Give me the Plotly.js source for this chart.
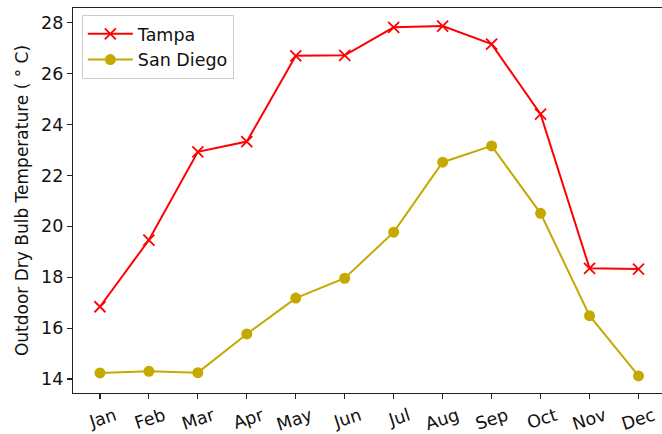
<!DOCTYPE html>
<html>
<head>
<meta charset="utf-8">
<script src="https://cdn.plot.ly/plotly-3.0.1.min.js"></script>
<style>html,body{margin:0;padding:0;background:#fff;}#chart{width:662px;height:434px;}</style>
</head>
<body>
<div id="chart"></div>
<script>
const months = ["Jan","Feb","Mar","Apr","May","Jun","Jul","Aug","Sep","Oct","Nov","Dec"];
const tampa = [16.84, 19.46, 22.93, 23.33, 26.70, 26.72, 27.82, 27.87, 27.16, 24.41, 18.35, 18.32];
const sanDiego = [14.24, 14.30, 14.25, 15.77, 17.18, 17.96, 19.77, 22.52, 23.16, 20.51, 16.49, 14.12];
const yTicks = [14, 16, 18, 20, 22, 24, 26, 28];

const idx = months.map((m, i) => i);
const font = {family: "DejaVu Sans, sans-serif", size: 17.5, color: "#111"};

const traces = [
  {
    x: idx, y: tampa, name: "Tampa", type: "scatter", mode: "lines+markers",
    line: {color: "#ff0000", width: 2},
    marker: {symbol: "x-thin-open", size: 11, color: "#ff0000", line: {color: "#ff0000", width: 1.8}}
  },
  {
    x: idx, y: sanDiego, name: "San Diego", type: "scatter", mode: "lines+markers",
    line: {color: "#c4aa00", width: 2},
    marker: {symbol: "circle", size: 11, color: "#c4aa00"}
  }
];

const layout = {
  width: 662, height: 434,
  margin: {l: 73, r: 0, t: 8, b: 41},
  paper_bgcolor: "#fff", plot_bgcolor: "#fff",
  font: font,
  showlegend: true,
  legend: {
    x: 0.015, y: 0.982, xanchor: "left", yanchor: "top",
    bordercolor: "#cccccc", borderwidth: 1, bgcolor: "rgba(255,255,255,0.8)",
    font: font, tracegroupgap: 0, itemwidth: 45
  },
  xaxis: {
    range: [-0.55, 11.48],
    tickmode: "array", tickvals: idx, ticktext: months,
    tickangle: -18, ticklabelshift: 15,
    ticks: "outside", ticklen: 5, tickwidth: 1.2, tickcolor: "#222",
    showline: true, linecolor: "#222", linewidth: 1.2, mirror: true,
    showgrid: false, zeroline: false, tickfont: font
  },
  yaxis: {
    range: [13.45, 28.58],
    tickmode: "array", tickvals: yTicks, ticktext: yTicks.map(String),
    ticks: "outside", ticklen: 5, tickwidth: 1.2, tickcolor: "#222",
    showline: true, linecolor: "#222", linewidth: 1.2,
    showgrid: false, zeroline: false, tickfont: font,
    title: {text: "Outdoor Dry Bulb Temperature ( ° C)", font: {family: "DejaVu Sans, sans-serif", size: 17, color: "#111"}, standoff: 8}
  }
};

Plotly.newPlot("chart", traces, layout, {displayModeBar: false, staticPlot: true});
</script>
</body>
</html>
